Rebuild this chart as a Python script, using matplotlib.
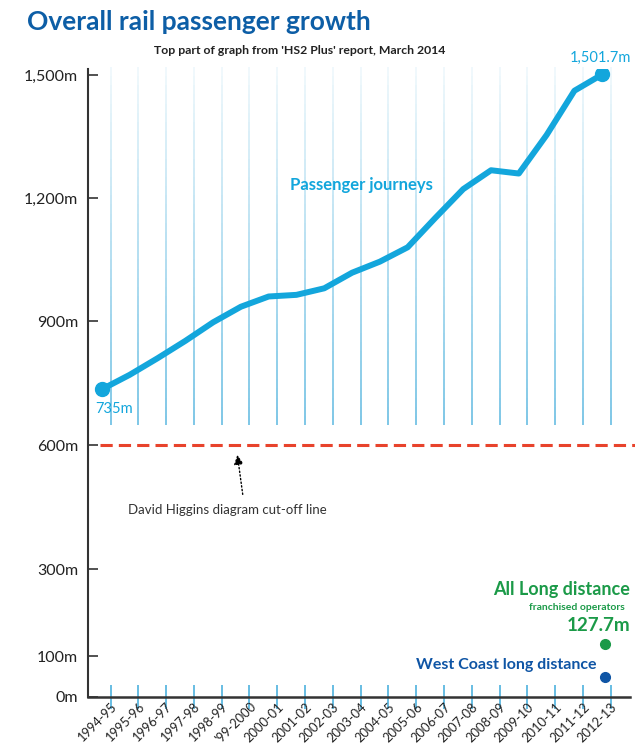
import matplotlib
matplotlib.use("Agg")
import matplotlib.pyplot as plt
import numpy as np
from matplotlib.collections import LineCollection

plt.rcParams["font.family"] = ["Lato", "DejaVu Sans"]

# data
years = ["1994-95", "1995-96", "1996-97", "1997-98", "1998-99", "'99-2000",
         "2000-01", "2001-02", "2002-03", "2003-04", "2004-05", "2005-06",
         "2006-07", "2007-08", "2008-09", "2009-10", "2010-11", "2011-12", "2012-13"]
journeys = [735, 770, 810, 852, 897, 935, 960, 964, 980, 1018, 1045, 1080,
            1152, 1222, 1268, 1260, 1354, 1462, 1501.7]
long_distance = 127.7
west_coast = 50
cutoff = 600

y_ticks = [0, 100, 300, 600, 900, 1200, 1500]
y_labels = ["0m", "100m", "300m", "600m", "900m", "1,200m", "1,500m"]
# broken vertical scale of the original graphic (relative heights)
scale_pos = [0, 41, 128, 252, 376, 499, 622]
scale_val = [-1000] + y_ticks + [3000]
scale_px = [-410] + scale_pos + [622 + 1500 * 0.41]

LIGHT_BLUE = "#13a6dc"
GRID_BLUE = "#5cb8e0"
TITLE_BLUE = "#0d5ea6"
GREEN = "#1b9a48"
WC_BLUE = "#0f55a5"
RED = "#e8432c"


def fwd(v):
    return np.interp(v, scale_val, scale_px)


def inv(p):
    return np.interp(p, scale_px, scale_val)


fig = plt.figure(figsize=(6.35, 7.45), dpi=100)
ax = fig.add_axes([88 / 635, 48 / 745, 542 / 635, 628 / 745])
ax.set_yscale("function", functions=(fwd, inv))
ax.set_ylim(0, 1515)
ax.set_xlim(-0.5, 19.0)

x = np.arange(len(years))
grid_x = x + 0.31

# faded vertical lines in the upper part
segs, cols = [], []
levels = np.linspace(648, 1520, 40)
for gx in grid_x:
    for i in range(len(levels) - 1):
        segs.append([(gx, levels[i]), (gx, levels[i + 1])])
        a = 0.85 - 0.75 * i / (len(levels) - 2)
        cols.append((0.36, 0.72, 0.88, a))
ax.add_collection(LineCollection(segs, colors=cols, linewidths=1.3, clip_on=False))

# passenger journeys
ax.plot(x, journeys, color=LIGHT_BLUE, linewidth=4.3, solid_capstyle="round", zorder=3)
ax.plot([x[0], x[-1]], [journeys[0], journeys[-1]], "o", color=LIGHT_BLUE,
        markersize=10, zorder=4)
ax.annotate("735m", (x[0], journeys[0]), xytext=(9, -14), textcoords="offset points",
            ha="center", va="center", color=LIGHT_BLUE, fontsize=10.5)
ax.annotate("1,501.7m", (x[-1], journeys[-1]), xytext=(21, 12), textcoords="offset points",
            ha="right", va="center", color=LIGHT_BLUE, fontsize=10.5)
ax.text(9.32, 1232, "Passenger journeys", ha="center", va="center",
        color=LIGHT_BLUE, fontsize=12, fontweight="bold")

# cut-off line
ax.hlines(cutoff, -0.07, 19.2, colors=RED, linestyles=(0, (4, 2)), linewidth=2.2,
          clip_on=False, zorder=2)
ax.annotate("", xy=(4.86, 583), xytext=(5.08, 474),
            arrowprops=dict(arrowstyle="-|>", linestyle=":", color="black",
                            linewidth=1, mutation_scale=14))
ax.text(4.52, 443, "David Higgins diagram cut-off line", ha="center", va="center",
        color="#333333", fontsize=9.5)

# long distance points
ax.plot(18.1, long_distance, "o", color=GREEN, markersize=7, zorder=4)
ax.plot(18.1, west_coast, "o", color=WC_BLUE, markersize=7, zorder=4)
ax.annotate("All Long distance", (18.1, long_distance), xytext=(18, 39),
            textcoords="offset points", ha="right", va="center",
            color=GREEN, fontsize=13, fontweight="bold")
ax.annotate("franchised operators", (18.1, long_distance), xytext=(14, 26.5),
            textcoords="offset points", ha="right", va="center",
            color=GREEN, fontsize=7.5, fontweight="bold")
ax.annotate("127.7m", (18.1, long_distance), xytext=(18, 13.5),
            textcoords="offset points", ha="right", va="center",
            color=GREEN, fontsize=13.5, fontweight="bold")
ax.annotate("West Coast long distance", (18.1, west_coast), xytext=(-6, 8),
            textcoords="offset points", ha="right", va="center",
            color=WC_BLUE, fontsize=11.5, fontweight="bold")

# axes styling
for side in ["top", "right"]:
    ax.spines[side].set_visible(False)
ax.spines["left"].set_color("#333333")
ax.spines["left"].set_linewidth(1.5)
ax.spines["bottom"].set_color("#333333")
ax.spines["bottom"].set_linewidth(1.8)

ax.set_yticks(y_ticks)
ax.set_yticklabels(y_labels)
ax.yaxis.set_minor_locator(matplotlib.ticker.NullLocator())
ax.tick_params(axis="y", direction="in", length=7, width=1.2, color="#333333",
               pad=7, labelsize=11.5, labelcolor="#222222")

ax.set_xticks(grid_x)
ax.set_xticklabels(years, rotation=45, ha="right", va="top", rotation_mode="anchor")
ax.tick_params(axis="x", direction="inout", length=17, width=1.3, color=GRID_BLUE,
               pad=-6, labelsize=9.3, labelcolor="#222222")

fig.text(27 / 635, 1 - 22 / 745, "Overall rail passenger growth", ha="left",
         va="center", color=TITLE_BLUE, fontsize=19, fontweight="bold")
fig.text(300 / 635, 1 - 51 / 745, "Top part of graph from 'HS2 Plus' report, March 2014",
         ha="center", va="center", color="#222222", fontsize=8.8, fontweight="bold")

fig.savefig("out.png", dpi=100)
